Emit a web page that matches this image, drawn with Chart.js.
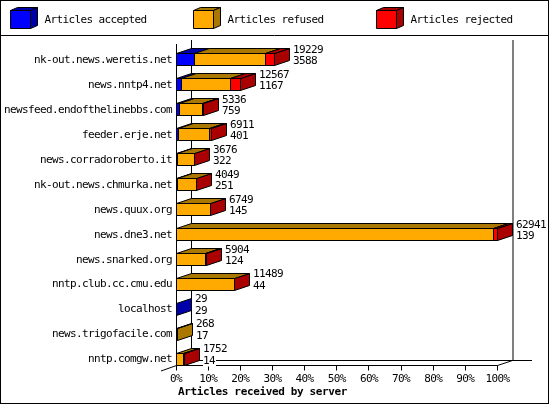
<!DOCTYPE html>
<html>
<head>
  <title>Articles received by server</title>
  <script src="https://cdn.jsdelivr.net/npm/chart.js"></script>
  <style>
    html, body { margin: 0; padding: 0; background: #fff; }
    canvas { display: block; }
  </style>
</head>
<body>
  <canvas id="myChart" width="550" height="405"></canvas>

  <script>
    const servers = ['nk-out.news.weretis.net', 'news.nntp4.net', 'newsfeed.endofthelinebbs.com', 'feeder.erje.net',
      'news.corradoroberto.it', 'nk-out.news.chmurka.net', 'news.quux.org', 'news.dne3.net', 'news.snarked.org',
      'nntp.club.cc.cmu.edu', 'localhost', 'news.trigofacile.com', 'nntp.comgw.net'];
    const totals = [19229, 12567, 5336, 6911, 3676, 4049, 6749, 62941, 5904, 11489, 29, 268, 1752];
    const accepted = [3588, 1167, 759, 401, 322, 251, 145, 139, 124, 44, 29, 17, 14];
    const refused = [13841, 9500, 4517, 6210, 3304, 3758, 6524, 62002, 5730, 11385, 0, 251, 1438];
    const rejected = [1800, 1900, 60, 300, 50, 40, 80, 800, 50, 60, 0, 0, 300];
    const seriesNames = ['Articles accepted', 'Articles refused', 'Articles rejected'];
    const frontColors = ['#0000ff', '#ffaa00', '#ff0000'];
    const darkColors = ['#0000aa', '#aa7700', '#aa0000'];
    const axisTitle = 'Articles received by server';

    const FONT = '"DejaVu Sans Mono", monospace';
    const DX = 15, DY = 5, BAR_H = 12;

    function pct(list) {
      return list.map(v => v / 62941 * 100);
    }

    function poly(ctx, pts, fill) {
      ctx.beginPath();
      pts.forEach((p, i) => i ? ctx.lineTo(p[0], p[1]) : ctx.moveTo(p[0], p[1]));
      ctx.closePath();
      ctx.fillStyle = fill;
      ctx.fill();
      ctx.stroke();
    }

    function cube(ctx, x0, x1, top, bot, dx, dy, front, dark) {
      poly(ctx, [[x0, top], [x0 + dx, top - dy], [x1 + dx, top - dy], [x1, top]], dark);
      poly(ctx, [[x1, top], [x1 + dx, top - dy], [x1 + dx, bot - dy], [x1, bot]], dark);
      poly(ctx, [[x0, top], [x1, top], [x1, bot], [x0, bot]], front);
    }

    function line(ctx, x1, y1, x2, y2) {
      ctx.beginPath();
      ctx.moveTo(x1, y1);
      ctx.lineTo(x2, y2);
      ctx.stroke();
    }

    const chrome3d = {
      id: 'chrome3d',
      beforeDraw(chart) {
        chart.ctx.letterSpacing = '-0.62px';
      },
      beforeDatasetsDraw(chart) {
        const ctx = chart.ctx;
        const xs = chart.scales.x;
        const x0 = Math.floor(xs.left) + 0.5;
        const x100 = Math.floor(xs.right) + 0.5;
        const floorFront = 365.5, floorBack = 360.5;

        ctx.save();
        ctx.strokeStyle = '#000';
        ctx.lineWidth = 1;

        // outer frame and legend
        ctx.strokeRect(0.5, 0.5, 548, 403);
        line(ctx, 0, 35.5, 549, 35.5);
        ctx.font = '11px ' + FONT;
        ctx.textBaseline = 'middle';
        ctx.textAlign = 'left';
        seriesNames.forEach((name, i) => {
          const lx = 10.5 + i * 183;
          cube(ctx, lx, lx + 20, 10.5, 28.5, 7, 3, frontColors[i], darkColors[i]);
          ctx.fillStyle = '#000';
          ctx.fillText(name, lx + 34, 20.5);
        });

        // walls and floor
        line(ctx, x0, 44, x0, floorFront);
        line(ctx, x0 + DX, 40, x0 + DX, floorBack);
        line(ctx, x100 + DX + 0.5, 40, x100 + DX + 0.5, floorBack);
        line(ctx, x0 + DX, floorBack, 532, floorBack);
        line(ctx, x0, floorFront, x100, floorFront);
        line(ctx, x100, floorFront, x100 + DX, floorBack);
        line(ctx, 161, 371, x0, floorFront);
        line(ctx, x0, floorFront, x0 + DX, floorBack);
        xs.ticks.forEach(t => {
          const tx = Math.floor(xs.getPixelForValue(t.value)) + 0.5;
          line(ctx, tx, floorFront, tx, 370.5);
        });

        // bars, top row first
        servers.forEach((name, row) => {
          const bars = chart.data.datasets.map((d, i) => chart.getDatasetMeta(i).data[row]);
          const top = Math.round(bars[0].y - 0.5 - BAR_H / 2) + 0.5;
          const bot = top + BAR_H;
          let last = 0;
          chart.data.datasets.forEach((d, i) => { if (d.data[row] > 0) last = i; });

          const endX = Math.floor(bars[last].x) + 0.5;
          poly(ctx, [[endX, top], [endX + DX, top - DY], [endX + DX, bot - DY], [endX, bot]], darkColors[last]);
          bars.forEach((b, i) => {
            const a = Math.floor(b.base) + 0.5, e = Math.floor(b.x) + 0.5;
            if (e <= a) return;
            poly(ctx, [[a, top], [a + DX, top - DY], [e + DX, top - DY], [e, top]], darkColors[i]);
            poly(ctx, [[a, top], [e, top], [e, bot], [a, bot]], frontColors[i]);
          });
          line(ctx, Math.floor(bars[0].base) + 0.5, top, Math.floor(bars[0].base) + 0.5, bot);

          // value labels
          const lx = endX + DX + 3.5, yc = bars[0].y;
          ctx.font = '11px ' + FONT;
          ctx.textBaseline = 'middle';
          ctx.textAlign = 'left';
          [[totals[row], yc - 10.5], [accepted[row], yc + 1]].forEach(item => {
            const txt = String(item[0]);
            ctx.fillStyle = '#fff';
            ctx.fillRect(lx, item[1] - 5, txt.length * 6 + 1, 11);
            ctx.fillStyle = '#000';
            ctx.fillText(txt, lx, item[1] + 0.5);
          });
        });

        ctx.font = 'bold 11px ' + FONT;
        ctx.textAlign = 'left';
        ctx.textBaseline = 'middle';
        ctx.letterSpacing = '-0.36px';
        ctx.fillStyle = '#000';
        ctx.fillText(axisTitle, 178, 392);
        ctx.restore();
        return false;
      }
    };

    const ctx = document.getElementById('myChart').getContext('2d');
    const chart = new Chart(ctx, {
      type: 'bar',
      data: {
        labels: servers,
        datasets: [accepted, refused, rejected].map((values, i) => ({
          label: seriesNames[i],
          data: pct(values),
          backgroundColor: frontColors[i],
          borderColor: '#000',
          borderWidth: 1
        }))
      },
      options: {
        indexAxis: 'y',
        responsive: false,
        animation: false,
        devicePixelRatio: 1,
        layout: { padding: { top: 47.5, right: 52.5, left: 0, bottom: 0 } },
        plugins: { legend: { display: false }, tooltip: { enabled: false } },
        scales: {
          x: {
            stacked: true,
            min: 0,
            max: 100,
            afterFit: scale => { scale.height = 33; },
            border: { display: false },
            grid: { display: false, drawTicks: false },
            ticks: {
              stepSize: 10,
              maxRotation: 0,
              autoSkip: false,
              padding: 1,
              color: '#000',
              font: { family: FONT, size: 11 },
              callback: value => value + '%'
            }
          },
          y: {
            stacked: true,
            afterFit: scale => { scale.width = 176; },
            border: { display: false },
            grid: { display: false, drawTicks: false },
            ticks: {
              autoSkip: false,
              padding: 4,
              color: '#000',
              font: { family: FONT, size: 11 }
            }
          }
        }
      },
      plugins: [chrome3d]
    });
  </script>
</body>
</html>
